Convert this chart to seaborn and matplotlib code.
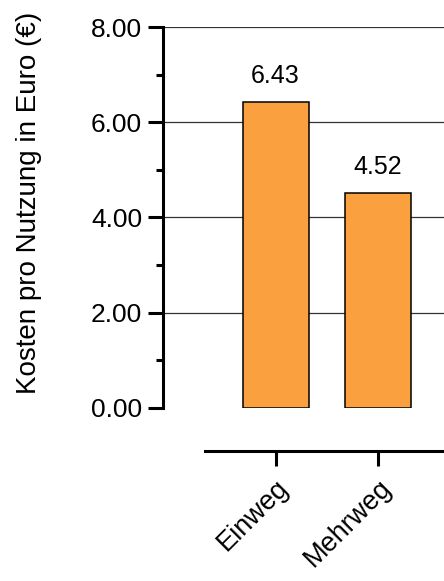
import numpy as np
import pandas as pd
import seaborn as sns
import matplotlib.pyplot as plt
from matplotlib.ticker import MultipleLocator

categories = ["Einweg", "Mehrweg"]
costs = [6.43, 4.52]
value_labels = ["6.43", "4.52"]
y_ticks = [0, 2, 4, 6, 8]

sns.set_style("white")
plt.rcParams['font.family'] = ['Liberation Sans', 'DejaVu Sans']
plt.rcParams['text.color'] = 'black'
plt.rcParams['axes.labelcolor'] = 'black'
plt.rcParams['xtick.color'] = 'black'
plt.rcParams['ytick.color'] = 'black'
plt.rcParams['axes.edgecolor'] = 'black'

df = pd.DataFrame({"Kategorie": categories, "Kosten": costs})

fig = plt.figure(figsize=(4.44, 5.81), dpi=100)
ax = fig.add_axes([0.367, 0.2978, 0.669, 0.6557])

for y in y_ticks[1:]:
    ax.axhline(y, color="#333333", lw=0.9, zorder=0)

sns.barplot(data=df, x="Kategorie", y="Kosten", color="#FBA03F", saturation=1,
            width=0.645, edgecolor="black", linewidth=1.1, ax=ax, zorder=2)

for i, (v, lab) in enumerate(zip(costs, value_labels)):
    ax.text(i, v + 0.28, lab, ha="center", va="bottom", fontsize=18)

ax.set_xlim(-1.1, 1.8)
ax.set_ylim(0, 8)
ax.set_yticks(y_ticks)
ax.set_yticklabels([f"{t:.2f}" for t in y_ticks])
ax.yaxis.set_minor_locator(MultipleLocator(1))

for s in ["top", "right"]:
    ax.spines[s].set_visible(False)
ax.spines["left"].set_linewidth(2.2)
ax.spines["bottom"].set_linewidth(2.2)
ax.spines["bottom"].set_position(("outward", 31))
ax.spines["bottom"].set_bounds(-0.69, 3)

ax.tick_params(axis="y", which="major", direction="out", length=11, width=2.2,
               labelsize=19, pad=4, left=True)
ax.tick_params(axis="y", which="minor", direction="out", length=5, width=2.2, left=True)
ax.tick_params(axis="x", direction="out", length=11, width=2.2, labelsize=19.5, bottom=True, pad=6)
for lab in ax.get_xticklabels():
    lab.set_rotation(45)
    lab.set_ha("right")
    lab.set_rotation_mode("anchor")

ax.set_xlabel("")
ax.set_ylabel("Kosten pro Nutzung in Euro (€)", fontsize=20)
ax.yaxis.set_label_coords(-0.407, 0.538)

fig.savefig("out.png", dpi=100)
